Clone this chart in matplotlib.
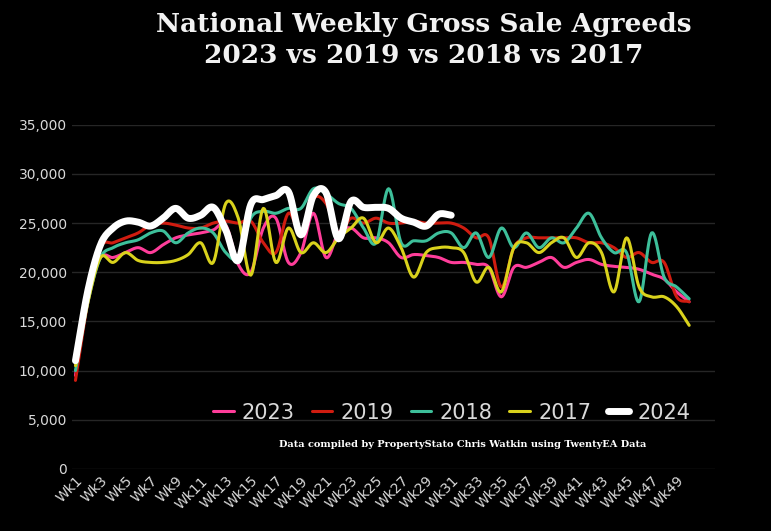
import matplotlib.pyplot as plt
import numpy as np

weeks = list(range(1, 51))
week_labels = ["Wk%d" % w for w in weeks]

s2023 = [9500, 17500, 21500, 21500, 22000, 22500, 22000, 22800, 23500, 23800,
         24000, 24300, 24800, 20800, 20000, 24500, 25500, 21000, 22000, 26000,
         21500, 24000, 24500, 23500, 23500, 23000, 21500, 21800, 21700, 21500,
         21000, 21000, 20800, 20500, 17500, 20500, 20500, 21000, 21500, 20500,
         21000, 21300, 20800, 20600, 20500, 20300, 19800, 19300, 18000, 17000]
s2019 = [9000, 17000, 22500, 23000, 23500, 24000, 24800, 25000, 24800, 24500,
         24500, 25000, 25200, 25000, 25200, 23000, 22000, 26000, 24000, 27500,
         27000, 24000, 25500, 25000, 25500, 25000, 25000, 25200, 25000, 25000,
         25000, 24500, 23500, 23500, 18500, 22500, 23500, 23500, 23500, 23500,
         23500, 23000, 23000, 22500, 21500, 22000, 21000, 21000, 17500, 17000]
s2018 = [10000, 17000, 21500, 22500, 23000, 23300, 24000, 24200, 23000, 24000,
         24500, 24000, 22000, 21500, 25500, 26200, 26000, 26500, 26500, 28500,
         28000, 27000, 26500, 24500, 23000, 28500, 23000, 23200, 23200, 24000,
         24000, 22500, 24000, 21500, 24500, 22500, 24000, 22500, 23500, 23000,
         24500, 26000, 23500, 22000, 22000, 17000, 24000, 19500, 18500, 17300]
s2017 = [10500, 17000, 21500, 21000, 22000, 21200, 21000, 21000, 21200, 21800,
         23000, 21000, 27000, 25500, 19700, 26500, 21000, 24500, 22000, 23000,
         22000, 23500, 24500, 25500, 23000, 24500, 22500, 19500, 22000, 22500,
         22500, 22000, 19000, 20500, 18000, 22500, 23000, 22000, 23000, 23500,
         21500, 23000, 22000, 18000, 23500, 18500, 17500, 17500, 16500, 14600]
s2024 = [11000, 18200, 22800, 24500, 25200, 25100, 24700, 25500, 26500, 25500,
         25800, 26600, 24300, 21200, 26900, 27400, 27800, 28200, 23800, 27800,
         28100, 23400, 27200, 26600, 26600, 26500, 25500, 25100, 24700, 25900,
         25800]


def smooth(x, y, n=12):
    # catmull-rom spline through the points, like excel's smoothed line
    x = np.asarray(x, float)
    y = np.asarray(y, float)
    px = np.concatenate([[2 * x[0] - x[1]], x, [2 * x[-1] - x[-2]]])
    py = np.concatenate([[2 * y[0] - y[1]], y, [2 * y[-1] - y[-2]]])
    xs, ys = [], []
    t = np.linspace(0, 1, n, endpoint=False)
    for i in range(1, len(px) - 2):
        for p, out in ((px, xs), (py, ys)):
            p0, p1, p2, p3 = p[i - 1], p[i], p[i + 1], p[i + 2]
            out.extend(0.5 * (2 * p1 + (-p0 + p2) * t + (2 * p0 - 5 * p1 + 4 * p2 - p3) * t ** 2
                              + (-p0 + 3 * p1 - 3 * p2 + p3) * t ** 3))
    xs.append(x[-1])
    ys.append(y[-1])
    return xs, ys


fig = plt.figure(figsize=(7.71, 5.31), dpi=100, facecolor="black")
ax = fig.add_axes([0.093, 0.117, 0.835, 0.648], facecolor="black")

series = [("2023", s2023, "#ff3d9a", 2.2),
          ("2019", s2019, "#d01c10", 2.2),
          ("2018", s2018, "#3dbf9a", 2.2),
          ("2017", s2017, "#d9d21c", 2.2),
          ("2024", s2024, "white", 5)]
for name, vals, col, lw in series:
    xs, ys = smooth(weeks[:len(vals)], vals)
    ax.plot(xs, ys, color=col, lw=lw, label=name, solid_capstyle="round")

ax.set_ylim(0, 35000)
ax.set_xlim(0.7, 52.1)
ax.set_yticks(range(0, 35001, 5000))
ax.set_yticklabels(["{:,}".format(v) for v in range(0, 35001, 5000)], color="#d9d9d9", fontsize=10)
ax.set_xticks(weeks[::2])
ax.set_xticklabels(week_labels[::2], rotation=45, ha="right", rotation_mode="anchor",
                   color="#d9d9d9", fontsize=10)
ax.grid(axis="y", color="#262626", lw=1)
ax.set_axisbelow(True)
ax.tick_params(length=0)
for sp in ax.spines.values():
    sp.set_visible(False)

leg = ax.legend(loc="lower right", bbox_to_anchor=(0.99, 0.08), ncol=5, frameon=False,
                fontsize=15, handlelength=1.0, columnspacing=0.8, handletextpad=0.4)
for t in leg.get_texts():
    t.set_color("#d9d9d9")

fig.text(0.6, 0.158, "Data compiled by PropertyStato Chris Watkin using TwentyEA Data",
         color="white", fontsize=7, fontweight="bold", family="DejaVu Serif", ha="center")
fig.text(0.55, 0.925, "National Weekly Gross Sale Agreeds\n2023 vs 2019 vs 2018 vs 2017",
         color="#f2f2f2", fontsize=19, fontweight="bold", family="DejaVu Serif",
         ha="center", va="center", linespacing=1.3)

fig.savefig("out.png", dpi=100, facecolor="black")
